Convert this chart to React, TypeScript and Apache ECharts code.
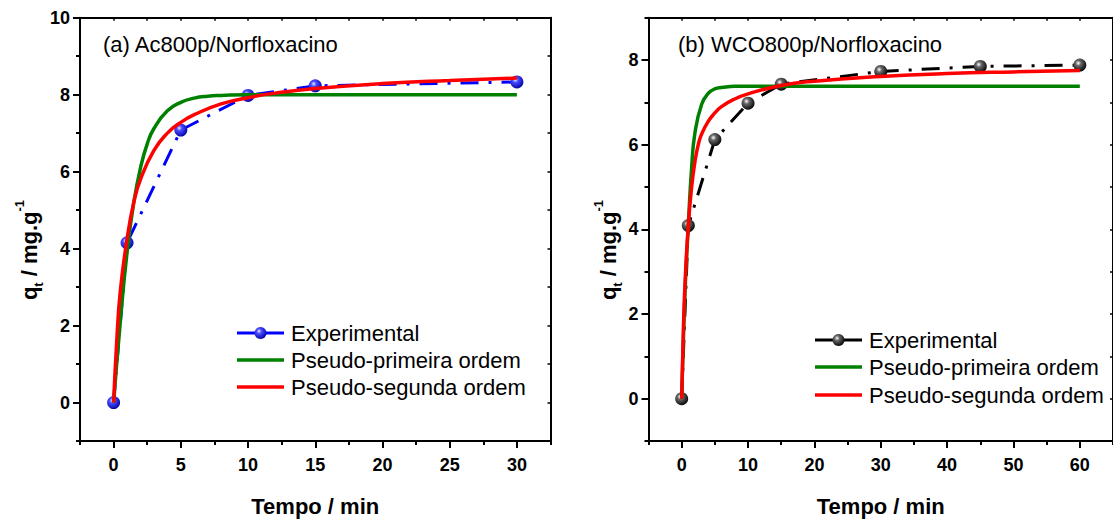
import React, { useEffect, useRef } from "react";
import * as echarts from "echarts";

// ---------- data: panel (a) Ac800p/Norfloxacino ----------
const timeExpA = [0, 1, 5, 10, 15, 30];
const qExpA = [0, 4.15, 7.08, 7.98, 8.23, 8.33];
const timePfoA = [0, 0.5, 1, 1.5, 2, 2.5, 3, 4, 5, 6, 7, 8, 10, 12, 15, 20, 30];
const qPfoA = [0, 2.1, 3.9, 5.2, 6.1, 6.72, 7.12, 7.58, 7.8, 7.91, 7.96, 7.98, 8.0, 8.0, 8.0, 8.0, 8.0];
const timePsoA = [0, 0.25, 0.5, 1, 1.5, 2, 3, 4, 5, 6, 8, 10, 12, 15, 20, 25, 30];
const qPsoA = [0, 1.7, 2.9, 4.25, 5.2, 5.8, 6.55, 7.0, 7.28, 7.48, 7.76, 7.92, 8.04, 8.16, 8.29, 8.37, 8.43];

// ---------- data: panel (b) WCO800p/Norfloxacino ----------
const timeExpB = [0, 1, 5, 10, 15, 30, 45, 60];
const qExpB = [0, 4.09, 6.12, 6.98, 7.43, 7.73, 7.85, 7.88];
const timePfoB = [0, 0.5, 1, 1.5, 2, 3, 4, 5, 6, 8, 10, 20, 40, 60];
const qPfoB = [0, 2.5, 4.1, 5.45, 6.28, 6.95, 7.21, 7.32, 7.35, 7.38, 7.38, 7.38, 7.38, 7.38];
const timePsoB = [0, 0.25, 0.5, 1, 1.5, 2, 2.5, 3, 4, 5, 6, 8, 10, 15, 20, 30, 40, 50, 60];
const qPsoB = [0, 1.6, 2.7, 4.1, 5.0, 5.6, 6.0, 6.25, 6.55, 6.75, 6.9, 7.08, 7.2, 7.4, 7.5, 7.61, 7.68, 7.72, 7.75];

// ---------- axes / ticks ----------
const xRangeA = [-2.5, 32.5];
const xMajorA = [0, 5, 10, 15, 20, 25, 30];
const xMinorA = [-2.5, 2.5, 7.5, 12.5, 17.5, 22.5, 27.5, 32.5];
const yRangeA = [-1, 10];
const yMajorA = [0, 2, 4, 6, 8, 10];
const yMinorA = [-1, 1, 3, 5, 7, 9];

const xRangeB = [-5, 65];
const xMajorB = [0, 10, 20, 30, 40, 50, 60];
const xMinorB = [-5, 5, 15, 25, 35, 45, 55, 65];
const yRangeB = [-1, 9];
const yMajorB = [0, 2, 4, 6, 8];
const yMinorB = [-1, 1, 3, 5, 7, 9];

const legendNames = ["Experimental", "Pseudo-primeira ordem", "Pseudo-segunda ordem"];
const titleA = "(a) Ac800p/Norfloxacino";
const titleB = "(b) WCO800p/Norfloxacino";
const xTitle = "Tempo / min";

const FONT = "'Liberation Sans', Arial, Helvetica, sans-serif";
const BLUE = "#0000ff";
const GREEN = "#008000";
const RED = "#ff0000";

const zip = (xs: number[], ys: number[]) => xs.map((x, i) => [x, ys[i]]);

const ballStopsBlue = [
  { offset: 0, color: "#e6e6ff" },
  { offset: 0.3, color: "#4a4aff" },
  { offset: 1, color: "#0000a0" },
];
const ballStopsBlack = [
  { offset: 0, color: "#ffffff" },
  { offset: 0.3, color: "#666666" },
  { offset: 1, color: "#000000" },
];
const ball = (stops: any[]) => ({ type: "radial", x: 0.38, y: 0.35, r: 0.7, colorStops: stops });

function axisSet(
  gridIndex: number,
  range: number[],
  major: number[],
  minor: number[],
  isX: boolean
) {
  const lineStyle = { color: "#000", width: 2 };
  const main: any = {
    gridIndex,
    type: "value",
    min: range[0],
    max: range[1],
    position: isX ? "bottom" : "left",
    axisLine: { show: true, onZero: false, lineStyle },
    axisTick: { show: true, customValues: major, length: 7, inside: false, lineStyle },
    axisLabel: {
      show: true,
      customValues: major,
      fontSize: 18,
      fontWeight: "bold",
      color: "#000",
      fontFamily: FONT,
      margin: isX ? 15 : 10,
    },
    splitLine: { show: false },
  };
  if (isX) {
    main.name = xTitle;
    main.nameLocation = "middle";
    main.nameGap = 54;
    main.nameTextStyle = { fontSize: 22, fontWeight: "bold", color: "#000", fontFamily: FONT };
  }
  const minorAxis: any = {
    gridIndex,
    type: "value",
    min: range[0],
    max: range[1],
    position: isX ? "bottom" : "left",
    axisLine: { show: false, onZero: false },
    axisTick: { show: true, customValues: minor, length: 4, inside: false, lineStyle },
    axisLabel: { show: false },
    splitLine: { show: false },
  };
  const mirror: any = {
    gridIndex,
    type: "value",
    min: range[0],
    max: range[1],
    position: isX ? "top" : "right",
    axisLine: { show: true, onZero: false, lineStyle },
    axisTick: {
      show: true,
      customValues: [...major, ...minor],
      length: 3,
      inside: true,
      lineStyle: { color: "#000", width: 1.5 },
    },
    axisLabel: { show: false },
    splitLine: { show: false },
  };
  return [main, minorAxis, mirror];
}

function yTitle(x: number, y: number) {
  return {
    type: "text",
    x,
    y,
    rotation: Math.PI / 2,
    style: {
      text: "{b|q}{s|t}{b| / mg.g}{p|-1}",
      align: "center",
      verticalAlign: "middle",
      rich: {
        b: { fontSize: 22, fontWeight: "bold", fontFamily: FONT, fill: "#000", lineHeight: 32, verticalAlign: "middle" },
        s: { fontSize: 13, fontWeight: "bold", fontFamily: FONT, fill: "#000", lineHeight: 32, verticalAlign: "bottom" },
        p: { fontSize: 13, fontWeight: "bold", fontFamily: FONT, fill: "#000", lineHeight: 32, verticalAlign: "top" },
      },
    },
  };
}

function legendBlock(x: number, rows: number[], expColor: string, stops: any[]) {
  const colors = [expColor, GREEN, RED];
  const items: any[] = [];
  legendNames.forEach((name, i) => {
    const y = rows[i];
    items.push({
      type: "line",
      shape: { x1: x, y1: y, x2: x + 47, y2: y },
      style: { stroke: colors[i], lineWidth: i === 0 ? 3 : 3.5 },
    });
    if (i === 0) {
      items.push({
        type: "circle",
        shape: { cx: x + 23.5, cy: y, r: 6 },
        style: { fill: new echarts.graphic.RadialGradient(0.38, 0.35, 0.7, stops) },
      });
    }
    items.push({
      type: "text",
      x: x + 54,
      y,
      style: { text: name, fontSize: 22, fontFamily: FONT, fill: "#000", verticalAlign: "middle" },
    });
  });
  return items;
}

function buildOption() {
  const gridTop = 17.7;
  const gridH = 425.6;
  const xAxes = [
    ...axisSet(0, xRangeA, xMajorA, xMinorA, true),
    ...axisSet(1, xRangeB, xMajorB, xMinorB, true),
  ];
  const yAxes = [
    ...axisSet(0, yRangeA, yMajorA, yMinorA, false),
    ...axisSet(1, yRangeB, yMajorB, yMinorB, false),
  ];
  const expLine = (color: string) => ({ color, width: 3, type: [18, 10, 3, 10] });
  const fitLine = (color: string) => ({ color, width: 3.5, type: "solid" });

  const fit = (name: string, xi: number, xs: number[], ys: number[], color: string, z: number) => ({
    name,
    type: "line",
    xAxisIndex: xi,
    yAxisIndex: xi,
    data: zip(xs, ys),
    showSymbol: false,
    symbol: "none",
    smooth: 0.5,
    itemStyle: { color },
    lineStyle: fitLine(color),
    z,
  });

  return {
    animation: false,
    backgroundColor: "#ffffff",
    grid: [
      { left: 80, top: gridTop, width: 470.5, height: gridH },
      { left: 648.5, top: gridTop, width: 470.5, height: gridH },
    ],
    xAxis: xAxes,
    yAxis: yAxes,
    graphic: [
      {
        type: "text",
        x: 103,
        y: 44,
        style: { text: titleA, fontSize: 22, fontFamily: FONT, fill: "#000", verticalAlign: "middle" },
      },
      {
        type: "text",
        x: 678,
        y: 44,
        style: { text: titleB, fontSize: 22, fontFamily: FONT, fill: "#000", verticalAlign: "middle" },
      },
      yTitle(29, 250),
      yTitle(608, 250),
      ...legendBlock(237, [333, 360, 387], BLUE, ballStopsBlue),
      ...legendBlock(815, [340, 367, 395], "#000", ballStopsBlack),
    ],
    series: [
      {
        name: "Experimental (a)",
        type: "line",
        xAxisIndex: 0,
        yAxisIndex: 0,
        data: zip(timeExpA, qExpA),
        symbol: "circle",
        symbolSize: 13,
        itemStyle: { color: ball(ballStopsBlue), borderWidth: 0 },
        lineStyle: expLine(BLUE),
        z: 2,
      },
      fit("Pseudo-primeira ordem (a)", 0, timePfoA, qPfoA, GREEN, 3),
      fit("Pseudo-segunda ordem (a)", 0, timePsoA, qPsoA, RED, 4),
      {
        name: "Experimental (b)",
        type: "line",
        xAxisIndex: 3,
        yAxisIndex: 3,
        data: zip(timeExpB, qExpB),
        symbol: "circle",
        symbolSize: 13,
        itemStyle: { color: ball(ballStopsBlack), borderWidth: 0 },
        lineStyle: expLine("#000"),
        z: 2,
      },
      fit("Pseudo-primeira ordem (b)", 3, timePfoB, qPfoB, GREEN, 3),
      fit("Pseudo-segunda ordem (b)", 3, timePsoB, qPsoB, RED, 4),
    ],
  };
}

export default function App() {
  const ref = useRef<HTMLDivElement>(null);
  useEffect(() => {
    if (!ref.current) return;
    const chart = echarts.init(ref.current, undefined, { renderer: "svg" });
    chart.setOption(buildOption() as any);
    return () => chart.dispose();
  }, []);
  return (
    <div
      ref={ref}
      style={{ position: "fixed", left: 0, top: 0, width: 1113, height: 522, background: "#fff" }}
    />
  );
}
